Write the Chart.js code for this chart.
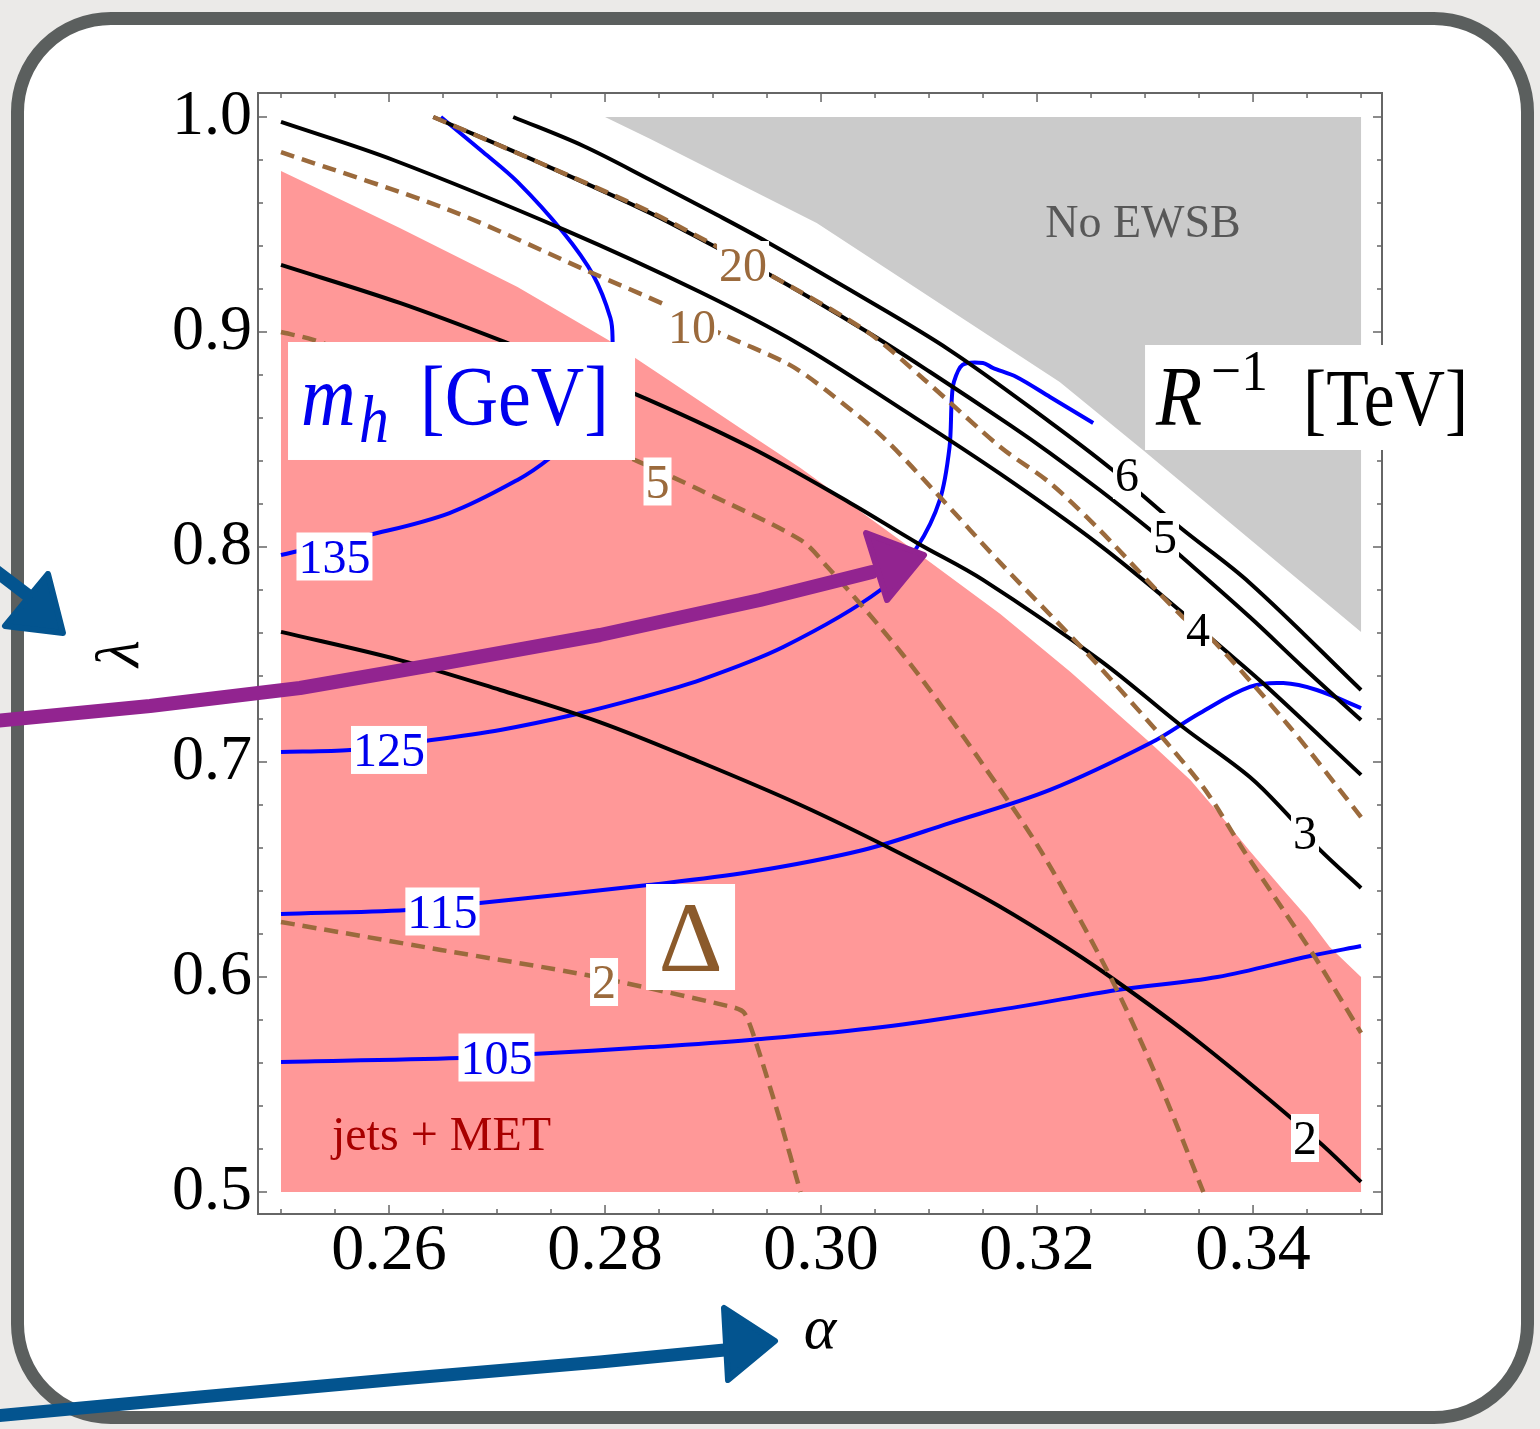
<!DOCTYPE html>
<html><head><meta charset="utf-8">
<script src="https://cdn.jsdelivr.net/npm/chart.js@4.4.0/dist/chart.umd.min.js"></script>
<style>
html,body{margin:0;padding:0;}
body{width:1540px;height:1429px;background:#ebeae8;position:relative;overflow:hidden;}
#frame{position:absolute;left:11px;top:12px;width:1523px;height:1412px;box-sizing:border-box;border:13px solid #5b5f5e;border-radius:100px;background:#fff;}
#c{position:absolute;left:0;top:0;}
</style></head><body>
<div id="frame"></div>
<canvas id="c" width="1540" height="1429"></canvas>
<script>
// ---------- axes ----------
const X_MIN = 0.24787, X_MAX = 0.35194;
const Y_MIN = 0.48977, Y_MAX = 1.01116;
const xTicks = [0.26, 0.28, 0.30, 0.32, 0.34];
const yTicks = [0.5, 0.6, 0.7, 0.8, 0.9, 1.0];
const xMinorTicks = [0.25,0.255,0.26,0.265,0.27,0.275,0.28,0.285,0.29,0.295,0.30,0.305,0.31,0.315,0.32,0.325,0.33,0.335,0.34,0.345,0.35];
const yMinorTicks = [0.5,0.52,0.54,0.56,0.58,0.6,0.62,0.64,0.66,0.68,0.7,0.72,0.74,0.76,0.78,0.8,0.82,0.84,0.86,0.88,0.9,0.92,0.94,0.96,0.98,1.0];

// ---------- regions ----------
const jetsMET = [[0.25,0.5],[0.25,0.9749],[0.2533,0.9670],[0.2610,0.9484],[0.2719,0.9209],[0.2803,0.8963],[0.2860,0.8772],[0.2925,0.8553],[0.2981,0.8367],[0.3036,0.8167],[0.3092,0.7963],[0.3166,0.7688],[0.3231,0.7419],[0.3305,0.7088],[0.3342,0.6916],[0.3372,0.6740],[0.3397,0.6586],[0.3428,0.6405],[0.3450,0.6279],[0.3471,0.6140],[0.35,0.6],[0.35,0.5]];
const noEWSB = [[0.2800,1.0],[0.2842,0.9898],[0.2996,0.9507],[0.3221,0.8767],[0.3298,0.8451],[0.35,0.7605],[0.35,1.0]];

// ---------- m_h contours [GeV] ----------
const mh135 = [[0.25,0.7963],[0.2582,0.8056],[0.2656,0.8158],[0.2719,0.8312],[0.2749,0.8414],[0.2777,0.8544],[0.2795,0.8684],[0.2806,0.8823],[0.2807,0.8963],[0.2805,0.9065],[0.2789,0.9265],[0.2761,0.9465],[0.2719,0.9698],[0.2687,0.9837],[0.2648,1.0]];
const mh125 = [[0.25,0.7047],[0.2564,0.7056],[0.2633,0.7098],[0.2703,0.7149],[0.2774,0.7223],[0.2832,0.7298],[0.2888,0.7381],[0.2965,0.7535],[0.3055,0.7800],[0.3089,0.8000],[0.3110,0.8219],[0.3119,0.8465],[0.3121,0.8684],[0.3123,0.8767],[0.3131,0.8847],[0.3150,0.8856],[0.3159,0.8833],[0.3181,0.8791],[0.3212,0.8698],[0.3252,0.8577]];
const mh115 = [[0.25,0.6293],[0.2617,0.6312],[0.2684,0.6344],[0.2840,0.6428],[0.2934,0.6488],[0.3039,0.6591],[0.3119,0.6716],[0.3212,0.6870],[0.3305,0.7088],[0.3351,0.7228],[0.3397,0.7349],[0.3428,0.7367],[0.3459,0.7335],[0.35,0.7251]];
const mh105 = [[0.25,0.5605],[0.2666,0.5623],[0.2733,0.5642],[0.2842,0.5674],[0.2934,0.5707],[0.3057,0.5767],[0.3181,0.5860],[0.3274,0.5940],[0.3367,0.6000],[0.3453,0.6098],[0.35,0.6144]];

// ---------- R^-1 contours [TeV] ----------
const rinv2 = [[0.25,0.7605],[0.2610,0.7474],[0.2703,0.7335],[0.2795,0.7186],[0.2888,0.7000],[0.2981,0.6800],[0.3067,0.6591],[0.3150,0.6372],[0.3212,0.6186],[0.3268,0.6000],[0.3351,0.5693],[0.3459,0.5242],[0.35,0.5047]];
const rinv3 = [[0.25,0.9312],[0.2610,0.9135],[0.2712,0.8944],[0.2826,0.8716],[0.2934,0.8465],[0.3027,0.8205],[0.3089,0.8019],[0.3150,0.7847],[0.3258,0.7474],[0.3335,0.7163],[0.3397,0.6930],[0.3434,0.6744],[0.3462,0.6591],[0.35,0.6414]];
const rinv4 = [[0.25,0.9977],[0.2604,0.9800],[0.2763,0.9474],[0.2888,0.9186],[0.2981,0.8940],[0.3073,0.8647],[0.3166,0.8340],[0.3258,0.8009],[0.3335,0.7693],[0.3363,0.7567],[0.3409,0.7367],[0.35,0.6940]];
const rinv5 = [[0.2641,1.0],[0.2740,0.9786],[0.2842,0.9553],[0.2906,0.9386],[0.2953,0.9265],[0.3043,0.9000],[0.3101,0.8814],[0.3175,0.8567],[0.3212,0.8437],[0.3258,0.8265],[0.3305,0.8079],[0.3331,0.7967],[0.3397,0.7674],[0.3446,0.7442],[0.35,0.7195]];
const rinv6 = [[0.2715,1.0],[0.2780,0.9865],[0.2842,0.9707],[0.2904,0.9544],[0.2950,0.9419],[0.3027,0.9195],[0.3119,0.8916],[0.3212,0.8581],[0.3270,0.8358],[0.3332,0.8093],[0.3397,0.7833],[0.35,0.7335]];

// ---------- Delta contours ----------
const delta20 = [[0.2641,1.0],[0.2740,0.9786],[0.2842,0.9558],[0.2906,0.9391],[0.2953,0.9265],[0.3043,0.9000],[0.3096,0.8777],[0.3166,0.8465],[0.3212,0.8298],[0.3258,0.8079],[0.3335,0.7674],[0.3360,0.7581],[0.3434,0.7163],[0.35,0.6744]];
const delta10 = [[0.25,0.9837],[0.2656,0.9567],[0.2786,0.9279],[0.2860,0.9116],[0.2904,0.9000],[0.2971,0.8847],[0.3008,0.8716],[0.3057,0.8512],[0.3110,0.8233],[0.3166,0.7926],[0.3258,0.7442],[0.3351,0.6902],[0.3391,0.6591],[0.3428,0.6312],[0.3459,0.6079],[0.35,0.5740]];
const delta5 = [[0.25,0.9000],[0.2530,0.8963],[0.2656,0.8740],[0.2795,0.8474],[0.2832,0.8395],[0.2888,0.8265],[0.2981,0.8033],[0.3006,0.7907],[0.3057,0.7614],[0.3094,0.7381],[0.3147,0.7009],[0.3203,0.6591],[0.3268,0.6000],[0.3314,0.5498],[0.3354,0.5]];
const delta2 = [[0.25,0.6256],[0.2648,0.6126],[0.2783,0.6009],[0.2918,0.5860],[0.2929,0.5833],[0.2939,0.5707],[0.2962,0.5335],[0.2981,0.5]];

// ---------- contour labels [text, x, y] ----------
const mhLabels = [['135',0.25495,0.79558],['125',0.26,0.7056],['115',0.26495,0.63047],['105',0.26995,0.56256]];
const rinvLabels = [['6',0.32833,0.83349],['5',0.33185,0.80465],['4',0.33491,0.7614],['3',0.34481,0.66698],['2',0.34481,0.52512]];
const deltaLabels = [['20',0.29278,0.93116],['10',0.28806,0.90233],['5',0.28486,0.83047],['2',0.27991,0.59767]];

// ---------- annotation boxes [x1, yTop, x2, yBottom] ----------
const mhBox = [0.25065, 0.89535, 0.28278, 0.84047];
const rBox = [0.33, 0.89395, 0.36056, 0.84512];
const deltaBox = [0.2838, 0.64326, 0.29204, 0.59395];
const noEWSBPos = [0.32981, 0.95116];
const jetsPos = [0.25472, 0.51953];

const FONT = '"Liberation Serif", "Times New Roman", serif';
const BLUE = '#0000ff', BROWN = '#9b6a3c', PINK = '#ff9898', GRAY = '#cbcbcb', AXIS = '#666666';

const toPts = a => a.map(([x, y]) => ({x, y}));
function lineDS(label, pts, color, width, dash, order, tension) {
  return {label, data: toPts(pts), borderColor: color, borderWidth: width, borderDash: dash || [],
    pointRadius: 0, fill: false, tension: tension, order, borderCapStyle: 'butt', borderJoinStyle: 'round'};
}
function areaDS(label, pts, color, order) {
  return {label, data: toPts(pts), borderColor: 'rgba(0,0,0,0)', borderWidth: 0, backgroundColor: color,
    fill: 'shape', pointRadius: 0, tension: 0, order};
}

const DASH = [14, 8];
const datasets = [
  areaDS('jets + MET', jetsMET, PINK, 100),
  areaDS('No EWSB', noEWSB, GRAY, 99),
  lineDS('mh 135', mh135, BLUE, 4, null, 30, 0.35),
  lineDS('mh 125', mh125, BLUE, 4, null, 30, 0.3),
  lineDS('mh 115', mh115, BLUE, 4, null, 30, 0.35),
  lineDS('mh 105', mh105, BLUE, 4, null, 30, 0.35),
  lineDS('R 2', rinv2, '#000', 4, null, 20, 0.35),
  lineDS('R 3', rinv3, '#000', 4, null, 20, 0.35),
  lineDS('R 4', rinv4, '#000', 4, null, 20, 0.35),
  lineDS('R 5', rinv5, '#000', 4, null, 20, 0.35),
  lineDS('R 6', rinv6, '#000', 4, null, 20, 0.35),
  lineDS('D 20', delta20, BROWN, 4.5, DASH, 10, 0.3),
  lineDS('D 10', delta10, BROWN, 4.5, DASH, 10, 0.3),
  lineDS('D 5', delta5, BROWN, 4.5, DASH, 10, 0.3),
  lineDS('D 2', delta2, BROWN, 4.5, DASH, 10, 0.25)
];

function boxLabel(ctx, text, px, py, size, color) {
  ctx.font = `${size}px ${FONT}`;
  const w = ctx.measureText(text).width;
  ctx.fillStyle = '#fff';
  ctx.fillRect(px - w / 2 - 2, py - 24, w + 4, 48);
  ctx.fillStyle = color;
  ctx.textAlign = 'center';
  ctx.textBaseline = 'alphabetic';
  ctx.fillText(text, px, py + size * 0.335);
}

// text drawn with a slight horizontal condensation (taller glyphs, same width)
function narrowText(ctx, text, x, y, font, sx) {
  ctx.save();
  ctx.font = font;
  ctx.translate(x, y);
  ctx.scale(sx, 1);
  ctx.textAlign = 'left';
  ctx.textBaseline = 'alphabetic';
  ctx.fillText(text, 0, 0);
  ctx.restore();
}

function arrow(ctx, shaft, head, color, width) {
  ctx.save();
  ctx.strokeStyle = color; ctx.fillStyle = color;
  ctx.lineWidth = width; ctx.lineCap = 'round'; ctx.lineJoin = 'round';
  ctx.beginPath();
  shaft.forEach(([x, y], i) => i ? ctx.lineTo(x, y) : ctx.moveTo(x, y));
  ctx.stroke();
  ctx.lineWidth = 6;
  ctx.beginPath();
  head.forEach(([x, y], i) => i ? ctx.lineTo(x, y) : ctx.moveTo(x, y));
  ctx.closePath(); ctx.fill(); ctx.stroke();
  ctx.restore();
}

const overlay = {
  id: 'overlay',
  afterDatasetsDraw(chart) {
    const {ctx, chartArea: a} = chart;
    const xs = chart.scales.x, ys = chart.scales.y;
    const X = v => xs.getPixelForValue(v), Y = v => ys.getPixelForValue(v);
    ctx.save();
    // frame
    ctx.strokeStyle = AXIS; ctx.lineWidth = 2;
    ctx.strokeRect(a.left, a.top, a.right - a.left, a.bottom - a.top);
    // ticks
    ctx.lineWidth = 1.5;
    ctx.beginPath();
    for (const v of xMinorTicks) {
      const p = X(v), L = xTicks.some(t => Math.abs(t - v) < 1e-9) ? 9 : 5;
      ctx.moveTo(p, a.bottom); ctx.lineTo(p, a.bottom - L);
      ctx.moveTo(p, a.top); ctx.lineTo(p, a.top + L);
    }
    for (const v of yMinorTicks) {
      const p = Y(v), L = yTicks.some(t => Math.abs(t - v) < 1e-9) ? 9 : 5;
      ctx.moveTo(a.left, p); ctx.lineTo(a.left + L, p);
      ctx.moveTo(a.right, p); ctx.lineTo(a.right - L, p);
    }
    ctx.stroke();

    // contour labels
    mhLabels.forEach(([t, x, y]) => boxLabel(ctx, t, X(x), Y(y), 48, '#0000ee'));
    rinvLabels.forEach(([t, x, y]) => boxLabel(ctx, t, X(x), Y(y), 48, '#000'));
    deltaLabels.forEach(([t, x, y]) => boxLabel(ctx, t, X(x), Y(y), 48, BROWN));

    // region texts
    ctx.textBaseline = 'alphabetic';
    ctx.font = `46px ${FONT}`; ctx.fillStyle = '#585858'; ctx.textAlign = 'center';
    ctx.fillText('No EWSB', X(noEWSBPos[0]), Y(noEWSBPos[1]) + 46 * 0.33);
    ctx.font = `48px ${FONT}`; ctx.fillStyle = '#a80000'; ctx.textAlign = 'left';
    ctx.fillText('jets + MET', X(jetsPos[0]), Y(jetsPos[1]));

    // m_h [GeV] box
    {
      const x1 = X(mhBox[0]), y1 = Y(mhBox[1]), x2 = X(mhBox[2]), y2 = Y(mhBox[3]);
      ctx.fillStyle = '#fff'; ctx.fillRect(x1, y1, x2 - x1, y2 - y1);
      const base = y1 + (y2 - y1) * 0.70;
      ctx.fillStyle = '#0000ee';
      narrowText(ctx, 'm', x1 + 13, base, `italic 86px ${FONT}`, 0.88);
      narrowText(ctx, 'h', x1 + 71, base + 17, `italic 68px ${FONT}`, 0.88);
      narrowText(ctx, '[GeV]', x1 + 132, base, `84px ${FONT}`, 0.88);
    }
    // R^-1 [TeV] box
    {
      const x1 = X(rBox[0]), y1 = Y(rBox[1]), x2 = X(rBox[2]), y2 = Y(rBox[3]);
      ctx.fillStyle = '#fff'; ctx.fillRect(x1, y1, x2 - x1, y2 - y1);
      const base = y1 + (y2 - y1) * 0.76;
      ctx.fillStyle = '#000';
      narrowText(ctx, 'R', x1 + 11, base, `italic 84px ${FONT}`, 0.9);
      narrowText(ctx, '\u22121', x1 + 66, base - 35, `58px ${FONT}`, 0.92);
      narrowText(ctx, '[TeV]', x1 + 158, base, `80px ${FONT}`, 0.87);
    }
    // Delta box
    {
      const x1 = X(deltaBox[0]), y1 = Y(deltaBox[1]), x2 = X(deltaBox[2]), y2 = Y(deltaBox[3]);
      ctx.fillStyle = '#fff'; ctx.fillRect(x1, y1, x2 - x1, y2 - y1);
      ctx.font = `100px ${FONT}`; ctx.fillStyle = '#8b5a2b'; ctx.textAlign = 'center';
      ctx.fillText('\u0394', (x1 + x2) / 2, (y1 + y2) / 2 + 34);
    }
    ctx.restore();
  },
  afterDraw(chart) {
    const ctx = chart.ctx;
    // decorative hand-drawn arrows (page decoration outside the data)
    arrow(ctx, [[-5, 721], [150, 706], [300, 688], [450, 662], [600, 635], [760, 600], [872, 572]],
      [[866, 533], [887, 600], [924, 555]], '#922490', 14);
    arrow(ctx, [[-5, 1416], [200, 1397], [400, 1379], [600, 1362], [735, 1349]],
      [[724, 1308], [728, 1380], [775, 1341]], '#03548f', 13);
    arrow(ctx, [[-8, 568], [38, 603]], [[48, 574], [5, 626], [63, 633]], '#03548f', 13);
  }
};

new Chart(document.getElementById('c'), {
  type: 'line',
  data: {datasets},
  options: {
    responsive: false, animation: false, devicePixelRatio: 1,
    layout: {padding: {top: 93, right: 158, left: 0, bottom: 0}},
    plugins: {legend: {display: false}, tooltip: {enabled: false}},
    scales: {
      x: {
        type: 'linear', position: 'bottom', min: X_MIN, max: X_MAX,
        grid: {display: false, drawTicks: false}, border: {display: false},
        afterBuildTicks: s => { s.ticks = xTicks.map(v => ({value: v})); },
        ticks: {font: {family: FONT, size: 66}, color: '#000', padding: -2, maxRotation: 0, autoSkip: false,
          callback: v => Number(v).toFixed(2)},
        title: {display: true, text: 'α', color: '#000', font: {family: FONT, size: 62, style: 'italic'},
          padding: {top: 0, bottom: 60}},
        afterFit: s => { s.height = 215; }
      },
      y: {
        type: 'linear', position: 'left', min: Y_MIN, max: Y_MAX,
        grid: {display: false, drawTicks: false}, border: {display: false},
        afterBuildTicks: s => { s.ticks = yTicks.map(v => ({value: v})); },
        ticks: {font: {family: FONT, size: 64}, color: '#000', padding: 6, autoSkip: false,
          callback: v => Number(v).toFixed(1)},
        title: {display: true, text: 'λ', color: '#000', font: {family: FONT, size: 62, style: 'italic'},
          padding: {top: 85, bottom: 0}},
        afterFit: s => { s.width = 258; }
      }
    }
  },
  plugins: [overlay]
});
</script></body></html>
